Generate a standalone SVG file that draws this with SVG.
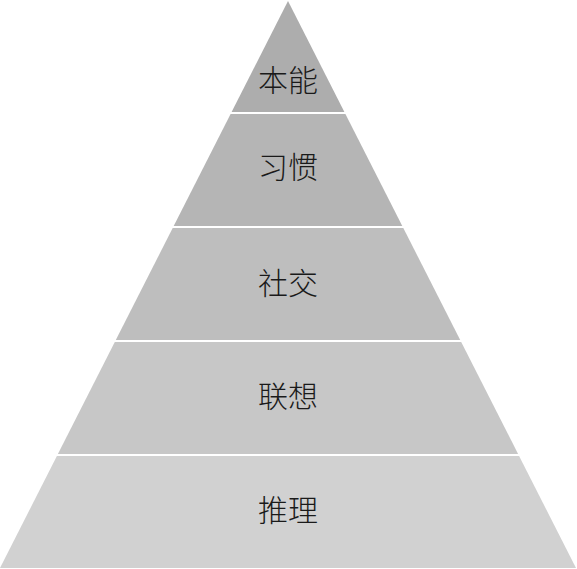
<svg xmlns="http://www.w3.org/2000/svg" width="577" height="569" viewBox="0 0 577 569">
<style>
.lbl{font-family:"Noto Sans CJK SC","Liberation Sans",sans-serif;font-size:30px;fill:#1a1a1a;text-anchor:middle;font-weight:300}
</style>
<rect width="577" height="569" fill="#ffffff"/>
<g id="band1"><polygon points="288,1 344.4,112 231.6,112" fill="#adadad"/><text class="lbl" x="288" y="91">本能</text></g>
<g id="band2"><polygon points="230.6,114 345.4,114 402.3,226 173.7,226" fill="#b5b5b5"/><text class="lbl" x="288" y="178">习惯</text></g>
<g id="band3"><polygon points="172.7,228 403.3,228 460.2,340 115.8,340" fill="#bebebe"/><text class="lbl" x="288" y="294">社交</text></g>
<g id="band4"><polygon points="114.8,342 461.2,342 518.1,454 57.9,454" fill="#c7c7c7"/><text class="lbl" x="288" y="407">联想</text></g>
<g id="band5"><polygon points="56.9,456 519.1,456 576,568 0,568" fill="#d1d1d1"/><text class="lbl" x="288" y="521">推理</text></g>
<g id="connectors"></g>
</svg>
